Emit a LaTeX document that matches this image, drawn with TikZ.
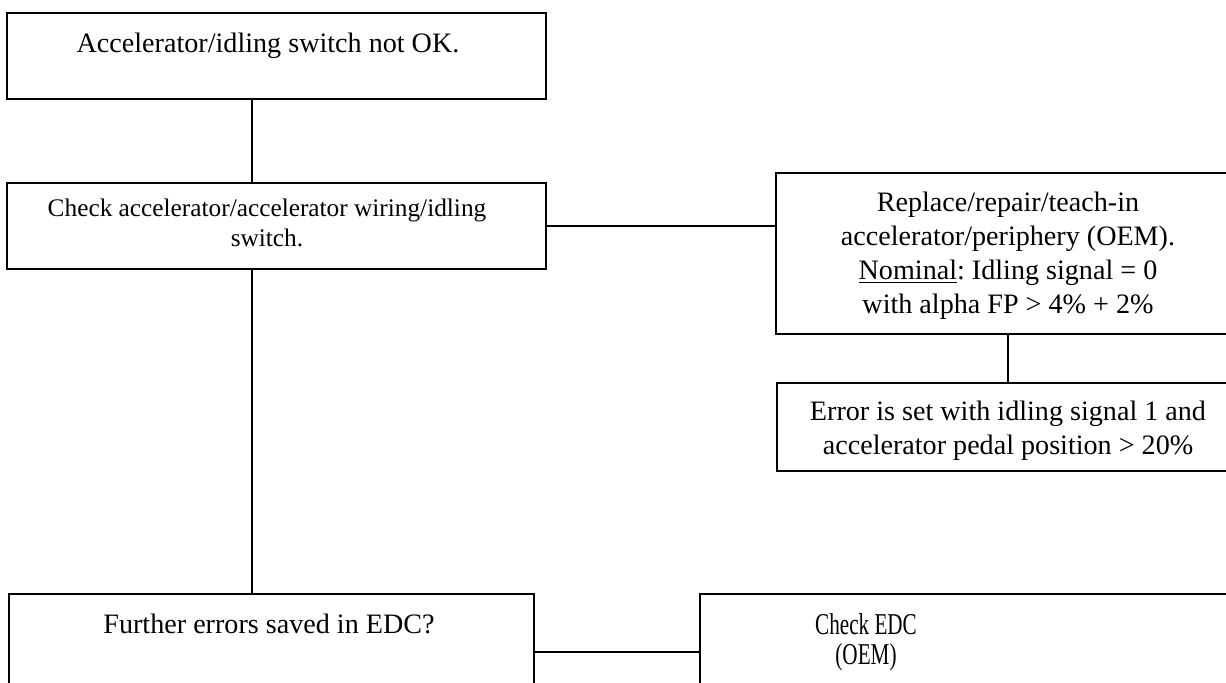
\documentclass[tikz,border=0pt]{standalone}
\usepackage{fontspec}
\setmainfont{Liberation Serif}
\usepackage{graphicx}
\frenchspacing

\begin{document}
\begin{tikzpicture}[
  x=0.025cm, y=-0.025cm,
  box/.style={draw=black, line width=1.1pt, fill=white, inner sep=0pt, outer sep=0pt},
  txt/.style={anchor=north, inner sep=0pt, align=center, font=\fontsize{20}{24.1}\selectfont},
  small/.style={txt, font=\fontsize{18}{21.3}\selectfont},
  link/.style={line width=1.1pt, black}
]
\path[use as bounding box] (0,0) rectangle (1226,683);
\clip (0,0) rectangle (1226,683);

% Boxes
\node[box, minimum width=13.475cm, minimum height=2.15cm] (notok) at (276.5,56) {};
\node[box, minimum width=13.475cm, minimum height=2.15cm] (check) at (276.5,226) {};
\node[box, minimum width=11.6cm, minimum height=4.025cm] (repair) at (1008,253.5) {};
\node[box, minimum width=11.55cm, minimum height=2.2cm] (errset) at (1008,427) {};
\node[box, minimum width=13.125cm, minimum height=2.9cm] (further) at (271.5,652) {};
\node[box, minimum width=13.5cm, minimum height=2.9cm] (edc) at (970,652) {};

% Texts
\node[txt] (notoktxt) at (268,33) {Accelerator/idling switch not OK.};
\node[small] (checktxt) at (267,199) {Check accelerator/accelerator wiring/idling\\switch.};
\node[txt] (repairtxt) at (1008,192) {Replace/repair/teach-in\\accelerator/periphery (OEM).\\\underline{Nominal}: Idling signal = 0\\with alpha FP > 4\% + 2\%};
\node[txt] (errsettxt) at (1008,401) {Error is set with idling signal 1 and\\accelerator pedal position > 20\%};
\node[txt] (furthertxt) at (269,614) {Further errors saved in EDC?};
\node[txt, font=\fontsize{21.5}{21.3}\selectfont] (edctxt) at (866,613) {\scalebox{0.7}[1]{Check EDC}\\\scalebox{0.7}[1]{(OEM)}};

% Connectors
\coordinate (spine) at (252,0);
\draw[link] (notok.south -| spine) -- (check.north -| spine);
\draw[link] (check.south -| spine) -- (further.north -| spine);
\draw[link] (check.east) -- (check.east -| repair.west);
\draw[link] (repair) -- (errset);
\draw[link] (further) -- (edc);
\end{tikzpicture}
\end{document}
